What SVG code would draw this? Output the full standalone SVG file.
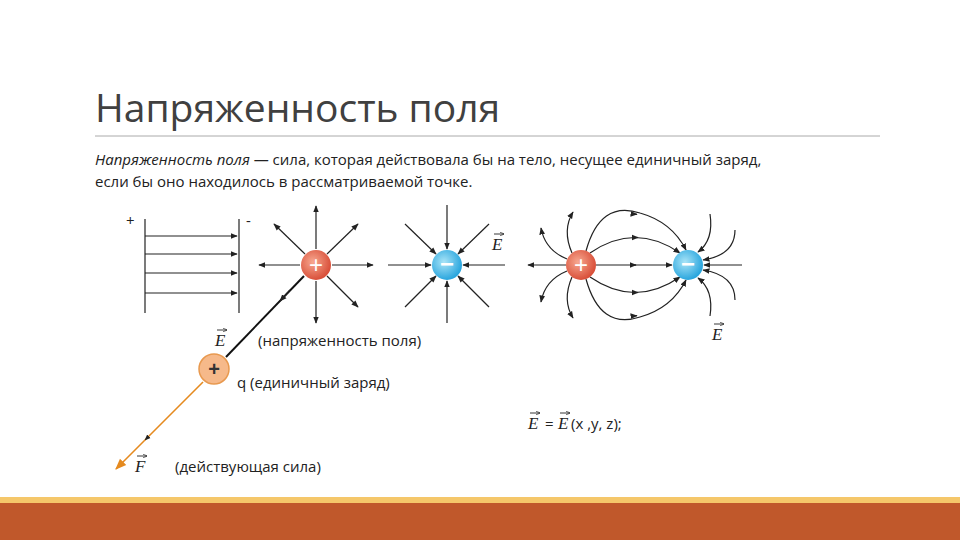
<svg xmlns="http://www.w3.org/2000/svg" width="960" height="540" viewBox="0 0 960 540">
<defs>
<marker id="a" viewBox="0 0 10 10" refX="9" refY="5" markerWidth="6" markerHeight="6" orient="auto"><path d="M0,1 L10,5 L0,9 z" fill="#222"/></marker>
<marker id="ao" viewBox="0 0 10 10" refX="9" refY="5" markerWidth="7" markerHeight="7" orient="auto"><path d="M0,1 L10,5 L0,9 z" fill="#e58a1f"/></marker>
<marker id="v" viewBox="0 0 10 10" refX="9" refY="5" markerWidth="5" markerHeight="5" orient="auto"><path d="M0,1 L10,5 L0,9" fill="none" stroke="#222" stroke-width="1.5"/></marker>
<radialGradient id="rg" cx="0.4" cy="0.4" r="0.6"><stop offset="0" stop-color="#f7a890"/><stop offset="1" stop-color="#d9503a"/></radialGradient>
<radialGradient id="bg" cx="0.4" cy="0.4" r="0.6"><stop offset="0" stop-color="#a9e4f7"/><stop offset="1" stop-color="#2aa6de"/></radialGradient>
</defs>
<style>
.l{stroke:#222;stroke-width:1.2;fill:none}
.t{font-family:"Open Sans","Liberation Sans",sans-serif;fill:#222;font-size:15px}
.e{font-family:"Liberation Serif",serif;font-style:italic;fill:#222;font-size:17px}
.s{font-family:"Liberation Sans",sans-serif;fill:#fff;font-size:24px;text-anchor:middle}
.ve{stroke:#222;stroke-width:0.9;fill:none}
</style>
<rect width="960" height="540" fill="#fff"/>
<text x="95" y="122" font-family="'Open Sans','Liberation Sans',sans-serif" font-size="39" fill="#404040">Напряженность поля</text>
<line x1="95" y1="136" x2="880" y2="136" stroke="#aaa"/>
<text x="95" y="165" class="t" font-size="16"><tspan font-style="italic">Напряженность поля</tspan> — сила, которая действовала бы на тело, несущее единичный заряд,</text>
<text x="95" y="187" class="t" font-size="16">если бы оно находилось в рассматриваемой точке.</text>
<g id="connectors">
<line x1="145" y1="219" x2="145" y2="313" class="l"/><line x1="239" y1="219" x2="239" y2="313" class="l"/>
<line x1="145" y1="236" x2="237" y2="236" class="l" marker-end="url(#a)"/>
<line x1="145" y1="254" x2="237" y2="254" class="l" marker-end="url(#a)"/>
<line x1="145" y1="273" x2="237" y2="273" class="l" marker-end="url(#a)"/>
<line x1="145" y1="293" x2="237" y2="293" class="l" marker-end="url(#a)"/>
<g transform="translate(316,265)">
<line x1="16" y1="0" x2="57" y2="0" class="l" marker-end="url(#a)"/>
<line x1="-16" y1="0" x2="-57" y2="0" class="l" marker-end="url(#a)"/>
<line x1="0" y1="-16" x2="0" y2="-59" class="l" marker-end="url(#a)"/>
<line x1="0" y1="16" x2="0" y2="58" class="l" marker-end="url(#a)"/>
<line x1="11" y1="-11" x2="42" y2="-41" class="l" marker-end="url(#a)"/>
<line x1="-11" y1="-11" x2="-42" y2="-41" class="l" marker-end="url(#a)"/>
<line x1="11" y1="11" x2="42" y2="42" class="l" marker-end="url(#a)"/>
</g>
<g transform="translate(447,265)">
<line x1="-59" y1="0" x2="-16" y2="0" class="l" marker-end="url(#a)"/>
<line x1="58" y1="0" x2="16" y2="0" class="l" marker-end="url(#a)"/>
<line x1="0" y1="-60" x2="0" y2="-16" class="l" marker-end="url(#a)"/>
<line x1="0" y1="58" x2="0" y2="16" class="l" marker-end="url(#a)"/>
<line x1="-42" y1="-41" x2="-11" y2="-11" class="l" marker-end="url(#a)"/>
<line x1="42" y1="-41" x2="11" y2="-11" class="l" marker-end="url(#a)"/>
<line x1="-42" y1="42" x2="-11" y2="11" class="l" marker-end="url(#a)"/>
<line x1="42" y1="42" x2="11" y2="11" class="l" marker-end="url(#a)"/>
</g>
<line x1="304" y1="276" x2="226" y2="357" stroke="#111" stroke-width="2"/>
<line x1="290" y1="290" x2="280" y2="301" class="l" marker-end="url(#a)"/>
<line x1="203" y1="382" x2="116" y2="469" stroke="#e58a1f" stroke-width="1.6" marker-end="url(#ao)"/>
<line x1="155" y1="430" x2="145" y2="440" stroke="#e58a1f" stroke-width="1" marker-end="url(#a)"/>
<line x1="566" y1="265" x2="528" y2="265" class="l" marker-end="url(#a)"/>
<line x1="596" y1="265" x2="672" y2="265" class="l" marker-end="url(#a)"/>
<line x1="630" y1="265" x2="636" y2="265" class="l" marker-end="url(#a)"/>
<line x1="742" y1="265" x2="704" y2="265" class="l" marker-end="url(#a)"/>
<path d="M590,253 Q635,222 680,253" class="l" marker-end="url(#a)"/>
<path d="M586,251 Q600,200 640,213 Q672,222 686,250" class="l" marker-end="url(#a)"/>
<path d="M590,277 Q635,308 680,277" class="l" marker-end="url(#a)"/>
<path d="M586,279 Q600,330 640,317 Q672,308 686,280" class="l" marker-end="url(#a)"/>
<line x1="633" y1="237.5" x2="638" y2="237.5" class="l" marker-end="url(#a)"/>
<line x1="633" y1="292.5" x2="638" y2="292.5" class="l" marker-end="url(#a)"/>
<line x1="632" y1="214" x2="637" y2="214.3" class="l" marker-end="url(#a)"/>
<line x1="632" y1="316" x2="637" y2="315.7" class="l" marker-end="url(#a)"/>
<path d="M567,259 Q545,250 541,228" class="l" marker-end="url(#a)"/>
<path d="M572,253 Q562,230 573,212" class="l" marker-end="url(#a)"/>
<path d="M567,271 Q545,280 541,302" class="l" marker-end="url(#a)"/>
<path d="M572,277 Q562,300 573,318" class="l" marker-end="url(#a)"/>
<path d="M710,214 Q714,240 698,252" class="l" marker-end="url(#a)"/>
<path d="M735,230 Q735,255 703,260" class="l" marker-end="url(#a)"/>
<path d="M710,316 Q714,290 698,278" class="l" marker-end="url(#a)"/>
<path d="M735,300 Q735,275 703,270" class="l" marker-end="url(#a)"/>
</g>
<g id="plates-labels"><text x="126" y="226" class="t">+</text><text x="246" y="226" class="t">-</text></g>
<g id="pos"><circle cx="316" cy="265" r="15" fill="url(#rg)"/><text x="316" y="273" class="s">+</text></g>
<g id="neg"><circle cx="447" cy="265" r="15" fill="url(#bg)"/><text x="447" y="272" class="s" font-weight="bold">−</text></g>
<g id="dpos"><circle cx="581" cy="265" r="15" fill="url(#rg)"/><text x="581" y="273" class="s">+</text></g>
<g id="dneg"><circle cx="688" cy="265" r="15" fill="url(#bg)"/><text x="688" y="272" class="s" font-weight="bold">−</text></g>
<g id="test"><circle cx="214" cy="369" r="15" fill="#f6b98a" stroke="#e8994f" stroke-width="1.5"/><text x="214" y="376" text-anchor="middle" font-family="Liberation Sans,sans-serif" font-size="20" font-weight="bold" fill="#333">+</text></g>
<g id="labels">
<text x="492" y="250" class="e">E</text><line x1="494" y1="234" x2="504" y2="234" class="ve" marker-end="url(#v)"/>
<text x="215" y="346" class="e">E</text><line x1="217" y1="330" x2="227" y2="330" class="ve" marker-end="url(#v)"/>
<text x="258" y="346" class="t">(напряженность поля)</text>
<text x="237" y="388" class="t">q  (единичный заряд)</text>
<text x="135" y="472" class="e">F</text><line x1="137" y1="456" x2="147" y2="456" class="ve" marker-end="url(#v)"/>
<text x="175" y="472" class="t">(действующая сила)</text>
<text x="712" y="340" class="e">E</text><line x1="714" y1="324" x2="724" y2="324" class="ve" marker-end="url(#v)"/>
<text x="528" y="429" class="e">E</text><line x1="530" y1="413" x2="540" y2="413" class="ve" marker-end="url(#v)"/>
<text x="545" y="429" class="t">=</text>
<text x="558" y="429" class="e">E</text><line x1="560" y1="413" x2="570" y2="413" class="ve" marker-end="url(#v)"/>
<text x="571" y="429" class="t">(x ,y, z);</text>
</g>
<rect x="0" y="497" width="960" height="6" fill="#f5c76a"/>
<rect x="0" y="503" width="960" height="37" fill="#c0582b"/>
</svg>
